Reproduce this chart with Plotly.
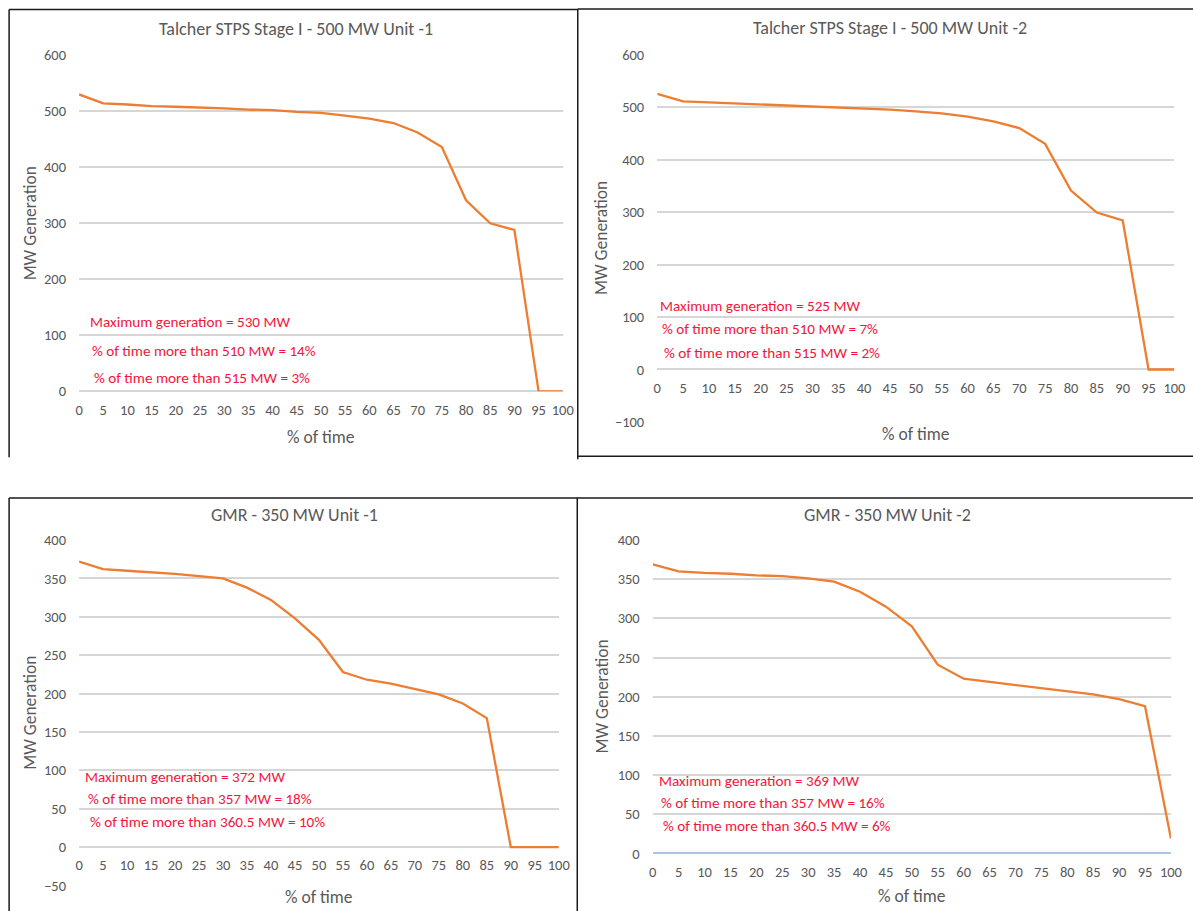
import plotly.graph_objects as go

W, H = 1193, 911

# ---------------- data ----------------
pct_time = [0, 5, 10, 15, 20, 25, 30, 35, 40, 45, 50, 55, 60, 65, 70, 75, 80, 85, 90, 95, 100]

talcher_u1 = [530, 514, 512, 509, 508, 507, 505, 503, 502, 499, 497, 492, 487, 479, 462, 436, 341, 300, 288, 0, 0]
talcher_u2 = [525, 511, 509, 507, 505, 504, 502, 500, 498, 495, 492, 488, 482, 473, 460, 430, 341, 299, 284, 0, 0]
gmr_u1 = [372, 362, 360, 358, 356, 353, 350, 338, 322, 298, 270, 228, 218, 213, 206, 199, 187, 168, 0, 0, 0]
gmr_u2 = [369, 360, 358, 357, 355, 354, 351, 347, 334, 315, 290, 241, 223, 219, 215, 211, 207, 203, 197, 188, 19]

titles = [
    "Talcher STPS Stage I - 500 MW Unit -1",
    "Talcher STPS Stage I - 500 MW Unit -2",
    "GMR - 350 MW Unit -1",
    "GMR - 350 MW Unit -2",
]
notes = [
    ["Maximum generation = 530 MW", "% of time more than 510 MW = 14%", "% of time more than 515 MW = 3%"],
    ["Maximum generation = 525 MW", "% of time more than 510 MW = 7%", "% of time more than 515 MW = 2%"],
    ["Maximum generation = 372 MW", "% of time more than 357 MW = 18%", "% of time more than 360.5 MW = 10%"],
    ["Maximum generation = 369 MW", "% of time more than 357 MW = 16%", "% of time more than 360.5 MW = 6%"],
]
y_ranges = [(0, 600), (-100, 600), (-50, 400), (0, 400)]
y_dticks = [100, 100, 50, 50]
x_axis_title = "% of time"
y_axis_title = "MW Generation"
series = [talcher_u1, talcher_u2, gmr_u1, gmr_u2]

# ---------------- layout geometry (target picture pixels) ----------------
plot_boxes = [  # x0, x1, ytop, ybottom, y of zero line
    (78, 562, 53.3, 390, 390),
    (656.5, 1174, 52.7, 420.7, 368.3),
    (78, 558, 539, 885, 846.3),
    (652, 1170.5, 539, 853, 853),
]
title_pos = [(295, 27), (889, 26), (294, 514), (887, 514)]
ytitle_x = [29, 601, 29, 601]
xtitle_y = [436, 433, 897, 896]
note_pos = [
    [(87, 321), (89, 350), (91, 377)],
    [(657, 305), (659.5, 328), (661.5, 352)],
    [(82, 776), (84.7, 798), (86.6, 821)],
    [(656, 780), (658.7, 802), (660.7, 825)],
]

FONT = "Carlito, Calibri, Lato, sans-serif"
GREY = "#595959"
GRID = "#d6d6d6"
RED = "#f5143c"
ORANGE = "#ED7D31"

# measured rendering correction (picture = a * page + b)
AX, BX = 0.988, 2.9
AY, BY = 0.982, 7.0


def px(x):
    return ((x - BX) / AX) / W


def py(y):
    return 1 - ((y - BY) / AY) / H


fig = go.Figure()
annotations = []
for i, (vals, box) in enumerate(zip(series, plot_boxes)):
    n = i + 1
    xa = "x" if n == 1 else f"x{n}"
    ya = "y" if n == 1 else f"y{n}"
    fig.add_trace(go.Scatter(x=pct_time, y=vals, mode="lines",
                             line=dict(color=ORANGE, width=2.3),
                             xaxis=xa, yaxis=ya, showlegend=False))
    x0, x1, yt, yb, yz = box
    xkey = "xaxis" if n == 1 else f"xaxis{n}"
    ykey = "yaxis" if n == 1 else f"yaxis{n}"
    fig.layout[xkey] = dict(domain=[px(x0), px(x1)], anchor="free", position=py(yz),
                            range=[0, 100],
                            tickmode="linear", tick0=0, dtick=5, showgrid=False,
                            zeroline=False, showline=False, ticks="",
                            ticklabelstandoff=8,
                            tickfont=dict(family=FONT, size=14.5, color=GREY))
    fig.layout[ykey] = dict(domain=[py(yb), py(yt)], anchor=xa, range=list(y_ranges[i]),
                            tickmode="linear", tick0=0, dtick=y_dticks[i], showgrid=True,
                            gridcolor=GRID, gridwidth=1.5, zeroline=True,
                            zerolinecolor="#a9c4e4" if n == 4 else GRID, zerolinewidth=1.5,
                            showline=False, ticks="", ticklabelstandoff=12,
                            tickfont=dict(family=FONT, size=14.5, color=GREY))
    tx, ty = title_pos[i]
    annotations.append(dict(text=titles[i], x=px(tx), y=py(ty), xref="paper", yref="paper",
                            xanchor="center", yanchor="middle", showarrow=False,
                            font=dict(family=FONT, size=18, color=GREY)))
    annotations.append(dict(text=y_axis_title, x=px(ytitle_x[i]), y=py((yt + yb) / 2),
                            xref="paper", yref="paper", xanchor="center", yanchor="middle",
                            textangle=-90, showarrow=False,
                            font=dict(family=FONT, size=17.5, color=GREY)))
    annotations.append(dict(text=x_axis_title, x=px((x0 + x1) / 2), y=py(xtitle_y[i]),
                            xref="paper", yref="paper", xanchor="center", yanchor="middle",
                            showarrow=False, font=dict(family=FONT, size=17.5, color=GREY)))
    for txt, (nx, ny) in zip(notes[i], note_pos[i]):
        annotations.append(dict(text=txt, x=px(nx), y=py(ny), xref="paper", yref="paper",
                                xanchor="left", yanchor="middle", showarrow=False,
                                font=dict(family=FONT, size=15.2, color=RED)))

# panel frames (target picture pixels)
frame = [
    (8, 7.5, 577, 7.5), (8, 7.5, 8, 456),
    (577, 7, 1193, 7), (577, 7, 577, 458), (577, 455, 1193, 455),
    (8, 497, 1193, 497), (8, 497, 8, 911), (576.5, 497, 576.5, 911),
]
shapes = [dict(type="line", xref="paper", yref="paper", x0=px(a), y0=py(b), x1=px(c), y1=py(d),
               line=dict(color="#1a1a1a", width=1.5)) for a, b, c, d in frame]

fig.update_layout(width=W, height=H, margin=dict(l=0, r=0, t=0, b=0),
                  paper_bgcolor="white", plot_bgcolor="white",
                  annotations=annotations, shapes=shapes, showlegend=False)

fig.write_html("out.html", include_plotlyjs=True, config={"displayModeBar": False},
               post_script="document.body.style.margin='0';document.body.style.overflow='hidden';")
